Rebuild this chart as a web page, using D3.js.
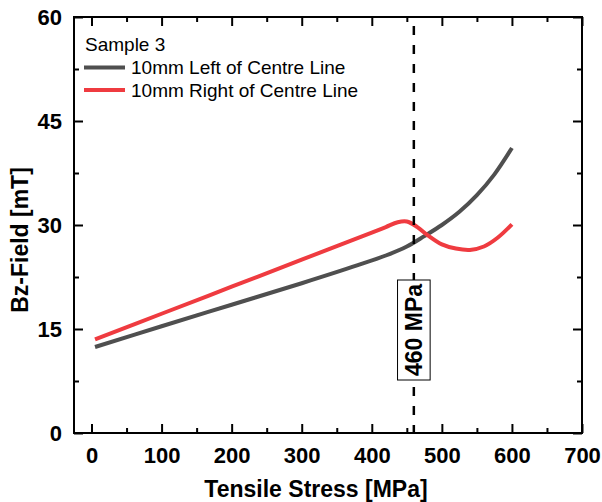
<!DOCTYPE html>
<html>

<head>
  <meta charset="utf-8">
  <style>
    body {
      margin: 0;
      background: #fff;
    }

    svg text {
      font-family: "Liberation Sans", Arial, sans-serif;
    }

    .axis path,
    .axis line {
      stroke: #000;
      stroke-width: 2px;
    }

    .axis text {
      font-size: 22px;
      font-weight: bold;
      fill: #000;
    }

    .title {
      font-size: 23px;
      font-weight: bold;
    }

    .legend text {
      font-size: 19px;
    }
  </style>
</head>

<body>
  <svg id="chart" width="602" height="502"></svg>

  <script src="https://d3js.org/d3.v7.min.js"></script>
  <script>
    var width = 602,
      height = 502,
      margin = { top: 17, right: 20, bottom: 69, left: 74 };

    // stress [MPa]
    var leftStress = [5, 100, 200, 300, 380, 420, 450, 475, 500, 525, 550, 575, 600];
    var leftField = [12.4, 15.4, 18.5, 21.6, 24.2, 25.6, 26.9, 28.4, 30.0, 31.9, 34.3, 37.3, 41.1];

    var rightStress = [5, 100, 200, 300, 400, 420, 437, 450, 465, 480, 500, 520, 540, 560, 580, 600];
    var rightField = [13.5, 17.2, 21.1, 25.0, 28.9, 29.7, 30.4, 30.5, 29.7, 28.5, 27.2, 26.6, 26.4, 26.9, 28.2, 30.1];

    var xTicks = [0, 100, 200, 300, 400, 500, 600, 700];
    var xMinor = [50, 150, 250, 350, 450, 550, 650];
    var yTicks = [0, 15, 30, 45, 60];
    var yMinor = [7.5, 22.5, 37.5, 52.5];

    var markerStress = 460;
    var markerLabel = '460 MPa';

    var series = [
      { name: '10mm Left of Centre Line', color: '#4f4f4f', x: leftStress, y: leftField },
      { name: '10mm Right of Centre Line', color: '#ef3b40', x: rightStress, y: rightField }
    ];

    var x0 = margin.left, x1 = width - margin.right,
      y0 = height - margin.bottom, y1 = margin.top;

    var x = d3.scaleLinear().domain([-25, 700]).range([x0, x1]);
    var y = d3.scaleLinear().domain([0, 60]).range([y0, y1]);

    var svg = d3.select('#chart');

    // frame + ticks
    function tickAxis(axis, pos, values, size, labels, pad) {
      var g = svg.append('g')
        .attr('class', 'axis')
        .attr('transform', pos)
        .call(axis.tickValues(values).tickSize(-size).tickPadding(pad)
          .tickFormat(labels ? d3.format('d') : ''));
      g.select('.domain').remove();
      return g;
    }

    tickAxis(d3.axisBottom(x), 'translate(0,' + y0 + ')', xTicks, 9, true, 14);
    tickAxis(d3.axisBottom(x), 'translate(0,' + y0 + ')', xMinor, 5, false, 0);
    tickAxis(d3.axisTop(x), 'translate(0,' + y1 + ')', xTicks, 9, false, 0);
    tickAxis(d3.axisTop(x), 'translate(0,' + y1 + ')', xMinor, 5, false, 0);
    tickAxis(d3.axisLeft(y), 'translate(' + x0 + ',0)', yTicks, 9, true, 12);
    tickAxis(d3.axisLeft(y), 'translate(' + x0 + ',0)', yMinor, 5, false, 0);
    tickAxis(d3.axisRight(y), 'translate(' + x1 + ',0)', yTicks, 9, false, 0);
    tickAxis(d3.axisRight(y), 'translate(' + x1 + ',0)', yMinor, 5, false, 0);

    svg.append('rect')
      .attr('x', x0).attr('y', y1)
      .attr('width', x1 - x0).attr('height', y0 - y1)
      .attr('fill', 'none')
      .attr('stroke', '#000')
      .attr('stroke-width', 2);

    // curves
    var line = d3.line()
      .x(function (d) { return x(d[0]); })
      .y(function (d) { return y(d[1]); })
      .curve(d3.curveCatmullRom.alpha(0.5));

    series.forEach(function (s) {
      svg.append('path')
        .datum(d3.zip(s.x, s.y))
        .attr('d', line)
        .attr('fill', 'none')
        .attr('stroke', s.color)
        .attr('stroke-width', 4);
    });

    // dashed marker
    svg.append('line')
      .attr('x1', x(markerStress)).attr('x2', x(markerStress))
      .attr('y1', y(60)).attr('y2', y(0))
      .attr('stroke', '#000')
      .attr('stroke-width', 2.5)
      .attr('stroke-dasharray', '9,10')
      .attr('stroke-dashoffset', 10);

    var lab = svg.append('g')
      .attr('transform', 'translate(' + x(markerStress) + ',330) rotate(-90)');
    lab.append('rect')
      .attr('x', -50).attr('y', -16.3)
      .attr('width', 100).attr('height', 32.6)
      .attr('fill', '#fff')
      .attr('stroke', '#000')
      .attr('stroke-width', 1);
    lab.append('text')
      .attr('class', 'title')
      .attr('text-anchor', 'middle')
      .attr('dy', '0.36em')
      .text(markerLabel);

    // axis titles
    svg.append('text')
      .attr('class', 'title')
      .attr('x', 316).attr('y', 497)
      .attr('text-anchor', 'middle')
      .text('Tensile Stress [MPa]');

    svg.append('text')
      .attr('class', 'title')
      .attr('transform', 'translate(28,240) rotate(-90)')
      .attr('text-anchor', 'middle')
      .text('Bz-Field [mT]');

    // legend
    var legend = svg.append('g').attr('class', 'legend');
    legend.append('text')
      .attr('x', 85).attr('y', 51)
      .text('Sample 3');

    series.forEach(function (s, i) {
      var ly = 67.5 + i * 22.5;
      legend.append('line')
        .attr('x1', 84).attr('x2', 125)
        .attr('y1', ly).attr('y2', ly)
        .attr('stroke', s.color)
        .attr('stroke-width', 4);
      legend.append('text')
        .attr('x', 131).attr('y', ly + 6.5)
        .text(s.name);
    });
  </script>
</body>

</html>
